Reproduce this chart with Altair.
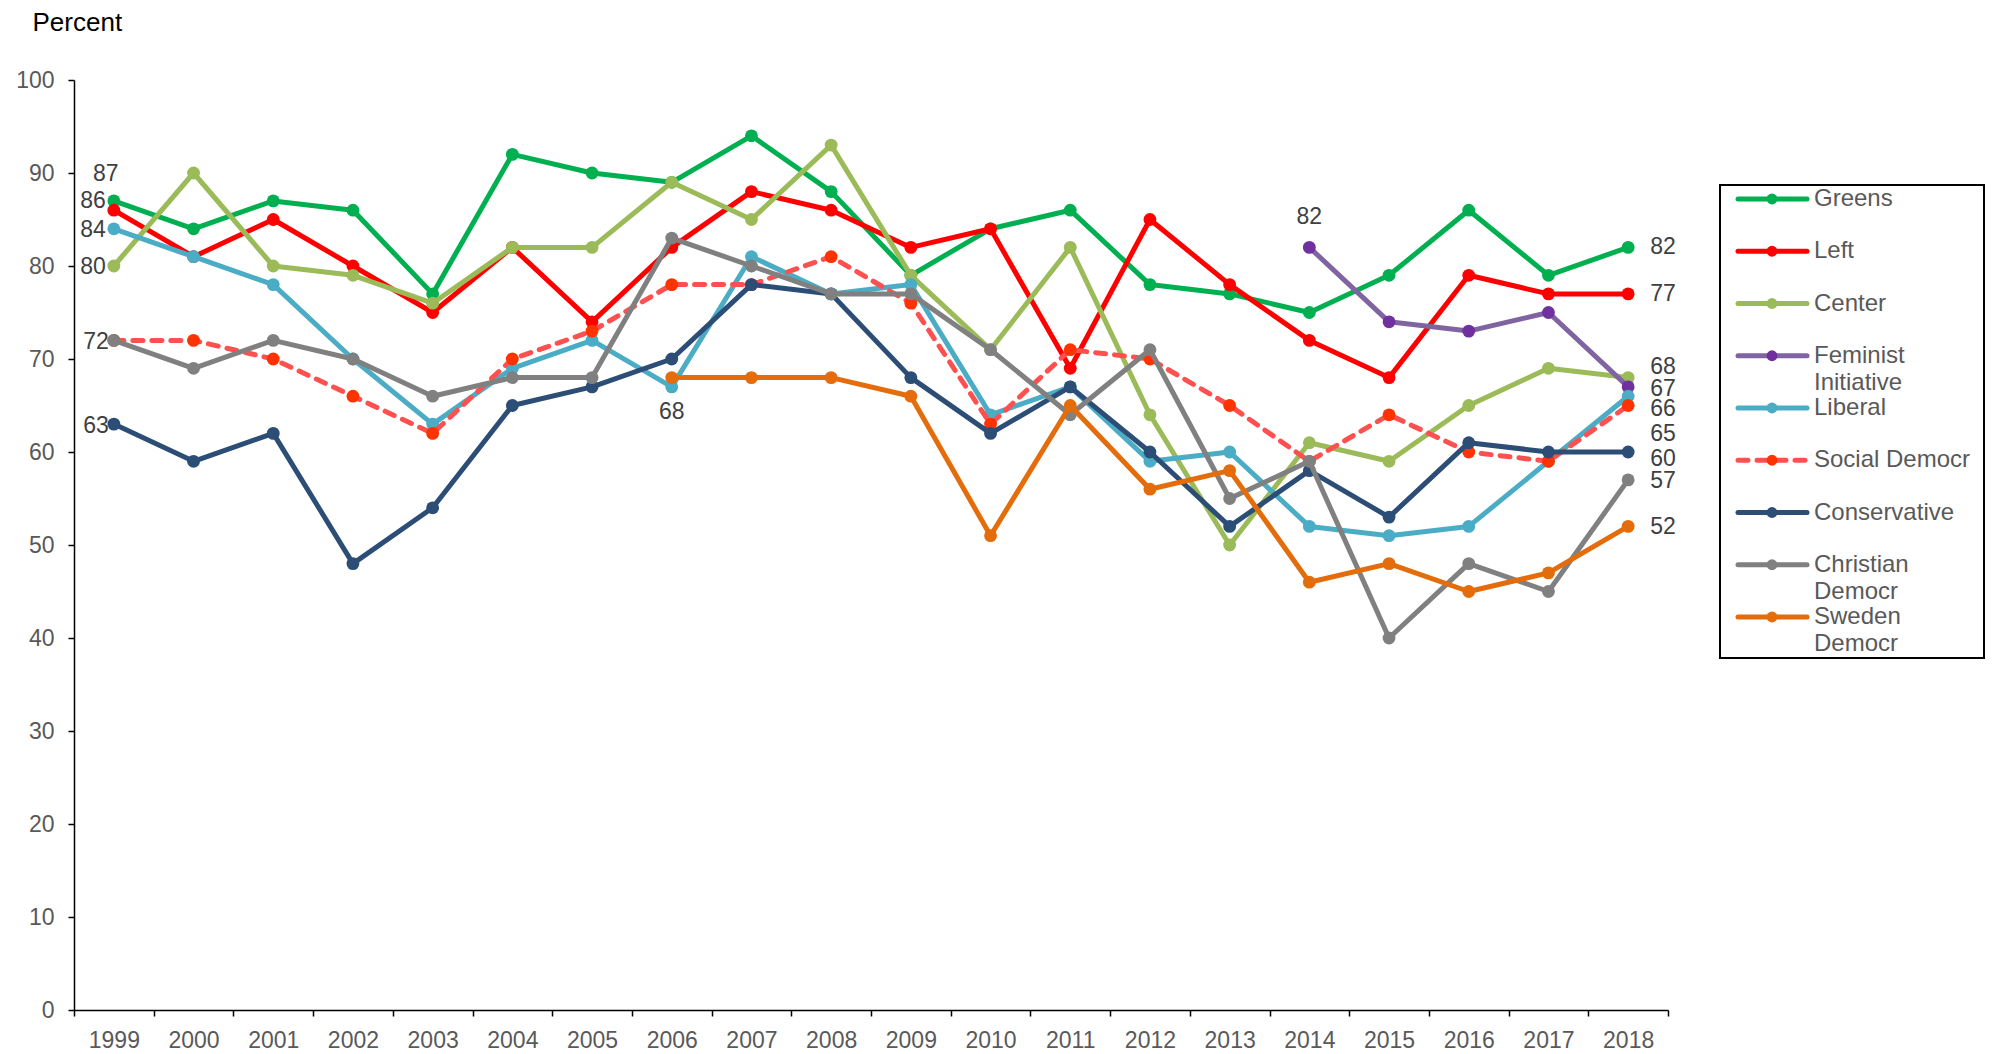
import altair as alt
import pandas as pd

# ---------------- data ----------------
years = [str(y) for y in range(1999, 2019)]
parties = ["Greens", "Left", "Center", "Feminist Initiative", "Liberal",
           "Social Democr", "Conservative", "Christian Democr", "Sweden Democr"]

greens = [87, 84, 87, 86, 77, 92, 90, 89, 94, 88, 79, 84, 86, 78, 77, 75, 79, 86, 79, 82]
left = [86, 81, 85, 80, 75, 82, 74, 82, 88, 86, 82, 84, 69, 85, 78, 72, 68, 79, 77, 77]
center = [80, 90, 80, 79, 76, 82, 82, 89, 85, 93, 79, 71, 82, 64, 50, 61, 59, 65, 69, 68]
feminist = [None] * 15 + [82, 74, 73, 75, 67]
liberal = [84, 81, 78, 70, 63, 69, 72, 67, 81, 77, 78, 64, 67, 59, 60, 52, 51, 52, 59, 66]
social = [72, 72, 70, 66, 62, 70, 73, 78, 78, 81, 76, 63, 71, 70, 65, 59, 64, 60, 59, 65]
conservative = [63, 59, 62, 48, 54, 65, 67, 70, 78, 77, 68, 62, 67, 60, 52, 58, 53, 61, 60, 60]
christian = [72, 69, 72, 70, 66, 68, 68, 83, 80, 77, 77, 71, 64, 71, 55, 59, 40, 48, 45, 57]
sweden = [None] * 7 + [68, 68, 68, 66, 51, 65, 56, 58, 46, 48, 45, 47, 52]

series = [greens, left, center, feminist, liberal, social, conservative, christian, sweden]

legend_line1 = ["Greens", "Left", "Center", "Feminist", "Liberal", "Social Democr",
                "Conservative", "Christian", "Sweden"]
legend_line2 = ["", "", "", "Initiative", "", "", "", "Democr", "Democr"]

# ---------------- styles ----------------
line_colors = ["#00B050", "#FF0000", "#9BBB59", "#8064A2", "#4BACC6",
               "#FF5050", "#2C4D75", "#808080", "#E46C0A"]
dot_colors = ["#00B050", "#FF0000", "#9BBB59", "#7030A0", "#4BACC6",
              "#FF3300", "#2C4D75", "#808080", "#E46C0A"]
dashed = {"Social Democr": [10, 9]}
FONT = "Liberation Sans"
LW = 5

rows = []
for p, vals in zip(parties, series):
    for y, v in zip(years, vals):
        if v is not None:
            rows.append({"year": y, "party": p, "value": v})
df = pd.DataFrame(rows)

xenc = alt.X("year:O",
             scale=alt.Scale(type="band", domain=years, paddingInner=0, paddingOuter=0),
             axis=alt.Axis(title=None, tickBand="extent", labelAngle=0, labelPadding=13))
yenc = alt.Y("value:Q",
             scale=alt.Scale(domain=[0, 100], nice=False),
             axis=alt.Axis(values=list(range(0, 101, 10)), title="Percent", titleAngle=0,
                           titleAlign="left", titleBaseline="alphabetic",
                           titleX=-42, titleY=-50, labelPadding=14))
stroke = alt.Stroke("party:N", scale=alt.Scale(domain=parties, range=line_colors), legend=None)
fill = alt.Fill("party:N", scale=alt.Scale(domain=parties, range=dot_colors), legend=None)

base = alt.Chart(df)
main_layers = []
for p in parties:
    sub = base.transform_filter(alt.datum.party == p)
    kw = dict(strokeWidth=LW, strokeCap="round", strokeJoin="round")
    if p in dashed:
        kw["strokeDash"] = dashed[p]
    main_layers.append(sub.mark_line(**kw).encode(x=xenc, y=yenc, stroke=stroke))
    main_layers.append(sub.mark_circle(size=165, opacity=1).encode(x=xenc, y=yenc, fill=fill))

# value annotations: (party, year, align, dx, dy)
annotations = [
    ("Greens", "1999", "center", -8, -27),
    ("Left", "1999", "right", -8, -9),
    ("Liberal", "1999", "right", -8, 1),
    ("Center", "1999", "right", -8, 1),
    ("Christian Democr", "1999", "right", -5, 2),
    ("Conservative", "1999", "right", -5, 2),
    ("Sweden Democr", "2006", "center", 0, 34),
    ("Feminist Initiative", "2014", "center", 0, -30),
    ("Greens", "2018", "left", 22, 0),
    ("Left", "2018", "left", 22, 0),
    ("Center", "2018", "left", 22, -11),
    ("Feminist Initiative", "2018", "left", 22, 2),
    ("Liberal", "2018", "left", 22, 13),
    ("Social Democr", "2018", "left", 22, 28),
    ("Conservative", "2018", "left", 22, 7),
    ("Christian Democr", "2018", "left", 22, 1),
    ("Sweden Democr", "2018", "left", 22, 1),
]
for p, yr, al, dx, dy in annotations:
    main_layers.append(
        base.transform_filter((alt.datum.party == p) & (alt.datum.year == yr))
        .mark_text(align=al, baseline="middle", dx=dx, dy=dy, fontSize=23,
                   font=FONT, color="#404040")
        .encode(x=xenc, y=yenc, text="value:Q")
    )

main = alt.layer(*main_layers)

# ---------------- legend ----------------
leg_df = pd.DataFrame({"party": parties, "line1": legend_line1, "line2": legend_line2})
leg_base = alt.Chart(leg_df)
leg_y = alt.Y("party:N", scale=alt.Scale(type="point", domain=parties, range=[119, 537], padding=0),
              axis=None)

box = alt.Chart(alt.Data(values=[{"k": 1}])).mark_rect(
    fill="white", fillOpacity=0, stroke="black", strokeWidth=2
).encode(x=alt.value(1646), x2=alt.value(1910), y=alt.value(105), y2=alt.value(578))

leg_solid = leg_base.transform_filter(alt.datum.party != "Social Democr").mark_rule(
    strokeWidth=LW, strokeCap="round").encode(
    x=alt.value(1664), x2=alt.value(1733), y=leg_y, stroke=stroke)
leg_dash = leg_base.transform_filter(alt.datum.party == "Social Democr").mark_rule(
    strokeWidth=LW, strokeCap="round", strokeDash=[10, 9]).encode(
    x=alt.value(1664), x2=alt.value(1733), y=leg_y, stroke=stroke)
leg_dot = leg_base.mark_circle(size=120, opacity=1).encode(x=alt.value(1698), y=leg_y, fill=fill)
leg_t1 = leg_base.mark_text(align="left", baseline="middle", fontSize=24, font=FONT,
                            color="#595959").encode(x=alt.value(1740), y=leg_y, text="line1:N")
leg_t2 = leg_base.transform_filter(alt.datum.line2 != "").mark_text(
    align="left", baseline="middle", dy=27, fontSize=24, font=FONT,
    color="#595959").encode(x=alt.value(1740), y=leg_y, text="line2:N")

legend = alt.layer(box, leg_solid, leg_dash, leg_dot, leg_t1, leg_t2)

chart = alt.layer(main, legend).resolve_scale(y="independent").properties(
    width=1594, height=930,
    padding={"left": 66, "top": 72, "right": 318, "bottom": 42},
    autosize=alt.AutoSizeParams(type="none"),
).configure_view(stroke=None).configure_axis(
    grid=False,
    labelFont=FONT, labelFontSize=23, labelColor="#595959",
    titleFont=FONT, titleFontSize=26, titleColor="black", titleFontWeight="normal",
    domainColor="black", domainWidth=1.5, tickColor="black", tickWidth=1.5, tickSize=6,
)

chart.save("out.html", embed_options={"renderer": "svg", "actions": False})
